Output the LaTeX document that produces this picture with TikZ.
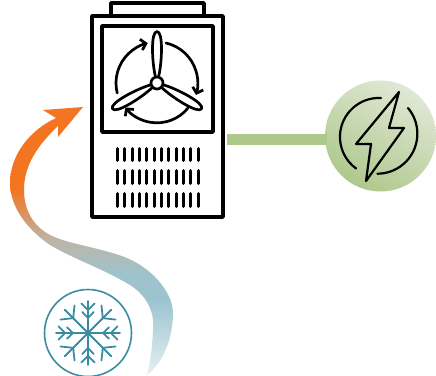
\documentclass[tikz,border=0pt]{standalone}
\usetikzlibrary{arrows.meta}
\definecolor{hotc}{HTML}{F47521}
\definecolor{midc}{HTML}{BDB5A5}
\definecolor{coolc}{HTML}{9CC4D0}
\definecolor{tailc}{HTML}{E6F0F3}
\definecolor{flakec}{HTML}{3A8CA2}
\definecolor{barc}{HTML}{AEC88C}
\definecolor{powl}{HTML}{E0E8D6}
\pgfdeclareverticalshading{flowshade}{100bp}{
  color(0bp)=(tailc);
  color(25bp)=(tailc);
  color(38.9bp)=(coolc);
  color(44bp)=(coolc!90!midc);
  color(50bp)=(midc);
  color(59.3bp)=(hotc);
  color(100bp)=(hotc)}
\tikzset{
  heavy/.style={draw=black,line width=3.8pt,line join=round,line cap=round,outer sep=0pt},
  thin fan/.style={draw=black,line width=2.7pt,line cap=round,line join=round},
  fan arrow/.style={thin fan,-{Straight Barb[length=5pt,width=11pt,line width=2.7pt]}},
  vent/.style={draw=black,line width=3pt,line cap=round},
  flake/.style={draw=flakec,line width=1.8pt,line cap=round},
  bolt/.style={draw=black,line width=2.2pt,line cap=round,line join=round},
  link/.style={draw=barc,line width=11pt},
}
\begin{document}
\begin{tikzpicture}[x=1pt,y=-1pt]
\useasboundingbox (0,0) rectangle (436,375);
% flow arrow
\begin{scope}
\clip (83,107) -- (43,110) -- (56,118)
  .. controls (30,130) and (10,155) .. (10,183)
  .. controls (10,205) and (25,228) .. (50,245)
  .. controls (70,257) and (100,268) .. (123,281)
  .. controls (145,292) and (155,310) .. (153,330)
  .. controls (152,350) and (150,365) .. (147,375)
  .. controls (160,365) and (172,345) .. (173,315)
  .. controls (174,295) and (155,270) .. (127,258)
  .. controls (105,249) and (75,245) .. (57,238)
  .. controls (35,230) and (24,212) .. (24,190)
  .. controls (24,165) and (38,145) .. (58,126)
  -- (58,137) -- cycle;
\shade[shading=flowshade] (0,105) rectangle (180,375);
\end{scope}
% unit
\node[heavy,fill=white,inner sep=0pt,minimum width=131pt,minimum height=201pt] (unit) at (157.5,116.5) {};
\node[heavy,inner sep=0pt,minimum width=93pt,minimum height=13pt,anchor=south] (cap) at (unit.north) {};
\node[heavy,inner sep=0pt,minimum width=111pt,minimum height=106pt] (panel) at (157.5,79) {};
\foreach \r/\a/\b in {147/147/162,169/169/185,192/192/208}{
  \foreach \i in {0,...,11}{
    \draw[vent] ({117.3+\i*7.36},{\r+1.5}) -- ({117.3+\i*7.36},{\b-1.5});
  }
}
% fan
\coordinate (hub) at (157,83);
\draw[fan arrow] (117.2,93) arc[start angle=-194,end angle=-103,radius=41];
\draw[fan arrow] (166,43) arc[start angle=-77,end angle=17,radius=41];
\draw[fan arrow] (188,108) arc[start angle=39,end angle=142,radius=40];
\foreach \ang in {0,120,240}{
  \begin{scope}[shift={(hub)},rotate=\ang]
  \draw[thin fan,fill=white] (-1.5,-6) .. controls (-5,-20) and (-6.5,-51.5) .. (0,-51.5) .. controls (6.5,-51.5) and (5,-20) .. (1.5,-6);
  \end{scope}
}
\node[thin fan,fill=white,circle,inner sep=0pt,minimum size=12pt] (hubc) at (hub) {};
% power
\node[circle,inner sep=0pt,minimum size=111pt,left color=powl,right color=barc,shading angle=-30] (power) at (380.5,136) {};
\coordinate (barstart) at (227,139);
\coordinate (barend) at (327,139);
\draw[link] (barstart) -- (barend);
\draw[bolt] (399,92) -- (389,128) -- (404,128) -- (366,181) -- (371,144) -- (356,144) -- cycle;
\draw[bolt] (381,98) arc[start angle=-87,end angle=-234,radius=39];
\draw[bolt] (408,108) arc[start angle=-40,end angle=90,radius=40];
% snowflake
\node[circle,draw=flakec,line width=1.6pt,inner sep=0pt,minimum size=87pt] (snow) at (88,333) {};
\foreach \ang in {0,90,180,270}{
  \begin{scope}[shift={(snow.center)},rotate=\ang]
  \draw[flake] (0,0) -- (0,-32);
  \draw[flake] (-6.7,-29.6) -- (0,-23) -- (6.7,-29.6);
  \draw[flake] (-5.7,-21) -- (0,-15) -- (5.7,-21);
  \end{scope}
  \begin{scope}[shift={(snow.center)},rotate=\ang+45]
  \draw[flake] (0,0) -- (0,-33);
  \draw[flake] (-10,-29) -- (0,-21) -- (10,-29);
  \end{scope}
}
\end{tikzpicture}
\end{document}
